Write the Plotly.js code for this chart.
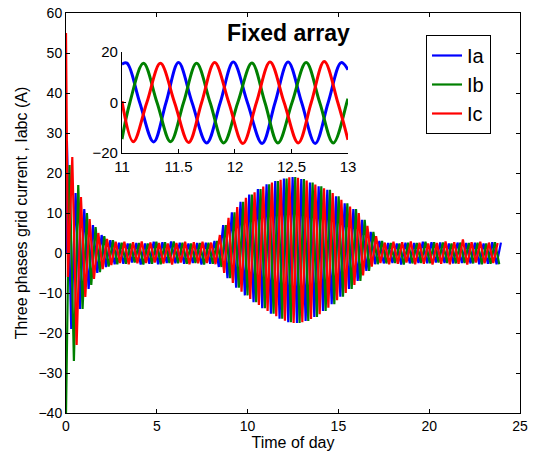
<!DOCTYPE html>
<html>
<head>
<meta charset="utf-8">
<script src="https://cdn.plot.ly/plotly-3.0.1.min.js"></script>
<style>html,body{margin:0;padding:0;background:#fff}#chart{width:536px;height:459px}</style>
</head>
<body>
<div id="chart"></div>
<script>
// ---- Data ----
const seriesNames = ['Ia', 'Ib', 'Ic'];
const seriesColors = ['#0000ff', '#008000', '#ff0000'];

// Half-period of the current oscillation (h) (period ~0.478 h)
const halfPeriod = 0.239;
// time of first extremum for each phase (Ia peak, Ib peak, Ic trough)
const phaseStart = [0.05, 0.196, 0.107];
// sign of extremum at even slots
const evenSign = [1, 1, -1];
// value at t = 0 for each phase
const initValue = [0, -40, 55];

// start-up transient extrema (first 12 half-cycles), per phase
const transA = [28, -19, 15, -14, 11, -9, 7, -5, 4.5, -3.5, 3.2, -2.8];
const transB = [22, -27, 17, -14, 10, -8, 6.5, -4.8, 4.2, -3.4, 3.2, -2.8];
const transC = [-6, 24, -23, 14, -11, 8.5, -6.5, 5, -4, 3.5, -3, 2.8];

// envelope of positive peaks, half-cycle slots 12..100
const peakEnv = [2.6,2.8,2.4,2.7,2.5,2.9,2.4,2.6,2.8,2.5,2.7,2.4,2.9,2.5,2.6,2.8,2.4,2.7,2.5,2.8,2.6,2.6,3.0,
  4.5,7.0,8.8,10.2,11.5,12.8,13.8,14.6,15.2,16.0,16.6,17.2,17.6,18.0,18.3,18.6,18.9,19.0,18.8,18.5,18.1,17.6,17.1,16.7,16.2,15.8,15.0,14.2,13.3,12.4,11.6,11.0,10.0,8.3,6.8,5.3,4.2,3.0,
  2.6,2.5,2.8,2.4,2.7,2.6,2.9,2.5,2.6,2.8,2.4,2.7,2.5,2.6,2.9,2.4,2.7,2.6,3.4,2.5,2.7,2.6,2.8,2.4,2.6,2.7,2.5,2.6];
// envelope of negative troughs (magnitudes), half-cycle slots 12..100
const troughEnv = [2.5,2.7,2.8,2.4,2.6,2.9,2.5,2.7,2.4,2.8,2.6,2.5,2.9,2.6,2.4,2.7,2.8,2.5,2.6,2.9,2.5,2.7,2.8,
  3.5,5.0,6.3,7.5,8.7,9.7,10.6,11.5,12.3,13.0,13.8,14.5,15.2,15.8,16.4,16.9,17.3,17.5,17.5,17.3,17.0,16.5,16.0,15.3,14.5,13.7,12.8,11.8,10.9,10.0,9.0,8.0,7.0,5.6,4.5,3.4,2.8,2.5,
  2.6,2.8,2.5,2.7,2.9,2.4,2.6,2.8,2.5,2.7,2.6,2.9,2.4,2.7,2.5,2.8,2.6,2.7,2.5,2.9,2.6,2.4,2.8,2.6,2.7,2.5,2.8,2.6];
const tEnd = 24;

// Inset (11 h .. 13 h) points: peaks, troughs and zero crossings
const insetTa = [11.0,11.044,11.157,11.28,11.39,11.5,11.62,11.75,11.87,11.985,12.11,12.24,12.355,12.47,12.59,12.71,12.825,12.94,13.0];
const insetIa = [15.2,15.6,0,-15.6,0,15.8,0,-16,0,16,0,-16.2,0,16,0,-16.2,0,15.8,13];
const insetTb = [11.0,11.07,11.19,11.31,11.43,11.545,11.66,11.78,11.90,12.025,12.15,12.265,12.38,12.505,12.63,12.75,12.87,12.99,13.0];
const insetIb = [-14.5,0,15.5,0,-15.5,0,15.5,0,-16,0,15.6,0,-16,0,15.8,0,-16,0,1.5];
const insetTc = [11.0,11.10,11.22,11.34,11.465,11.59,11.705,11.82,11.945,12.07,12.19,12.31,12.435,12.56,12.675,12.79,12.91,13.0];
const insetIc = [0.5,-15.5,0,15.5,0,-15.8,0,15.8,0,-16.2,0,16,0,-16,0,16.2,0,-14.8];

const xTicks = [0,5,10,15,20,25];
const yTicks = [-40,-30,-20,-10,0,10,20,30,40,50,60];
const insetXTicks = [11,11.5,12,12.5,13];
const insetYTicks = [-20,0,20];

// ---- Build traces ----
const transients = [transA, transB, transC];
const insetT = [insetTa, insetTb, insetTc];
const insetV = [insetIa, insetIb, insetIc];
const FONT = 'Liberation Sans, Arial, sans-serif';
const traces = [];
for (let p = 0; p < 3; p++) {
  const x = [0], y = [initValue[p]];
  for (let k = 0; ; k++) {
    const t = phaseStart[p] + k * halfPeriod;
    if (t > tEnd) break;
    const positive = (k % 2 === 0) ? evenSign[p] > 0 : evenSign[p] < 0;
    let v;
    if (k < 12) v = transients[p][k];
    else v = positive ? peakEnv[k - 12] : -troughEnv[k - 12];
    if (v === undefined) break;
    x.push(t); y.push(v);
  }
  traces.push({x, y, type: 'scatter', mode: 'lines', name: seriesNames[p],
    line: {color: seriesColors[p], width: 2.2}, xaxis: 'x', yaxis: 'y'});
}
for (let p = 0; p < 3; p++) {
  traces.push({x: insetT[p], y: insetV[p], type: 'scatter', mode: 'lines', showlegend: false,
    line: {color: seriesColors[p], width: 3, shape: 'spline', smoothing: 1}, xaxis: 'x2', yaxis: 'y2', hoverinfo: 'skip'});
}

const axisBase = {showgrid: false, zeroline: false, showline: true, linecolor: '#000', linewidth: 1,
  ticks: 'inside', ticklen: 4, tickcolor: '#000', tickfont: {family: FONT, size: 14, color: '#000'}};

const layout = {
  width: 536, height: 459,
  margin: {l: 66, r: 16, t: 13, b: 46},
  paper_bgcolor: '#fff', plot_bgcolor: '#fff',
  font: {family: FONT, color: '#000'},
  xaxis: Object.assign({}, axisBase, {range: [0, 25], tickvals: xTicks, mirror: 'ticks',
    title: {text: 'Time of day', font: {family: FONT, size: 16, color: '#000'}, standoff: 4}}),
  yaxis: Object.assign({}, axisBase, {range: [-40, 60], tickvals: yTicks, mirror: 'ticks',
    title: {text: 'Three phases grid current , Iabc (A)', font: {family: FONT, size: 16, color: '#000'}, standoff: 6}}),
  xaxis2: Object.assign({}, axisBase, {domain: [0.1233, 0.6211], anchor: 'y2', range: [11, 13], tickvals: insetXTicks,
    tickfont: {family: FONT, size: 15, color: '#000'}}),
  yaxis2: Object.assign({}, axisBase, {domain: [0.65, 0.9025], anchor: 'x2', range: [-20, 20], tickvals: insetYTicks,
    tickfont: {family: FONT, size: 15, color: '#000'}}),
  showlegend: true,
  legend: {x: 0.793, y: 0.945, xanchor: 'left', yanchor: 'top', bgcolor: '#fff', bordercolor: '#000', borderwidth: 1,
    font: {family: FONT, size: 20, color: '#000'}},
  annotations: [{text: '<b>Fixed array</b>', xref: 'paper', yref: 'paper', x: 0.489, y: 0.95,
    xanchor: 'center', yanchor: 'middle', showarrow: false, font: {family: FONT, size: 23, color: '#000'}}]
};

Plotly.newPlot('chart', traces, layout, {displayModeBar: false, staticPlot: true});
</script>
</body>
</html>
